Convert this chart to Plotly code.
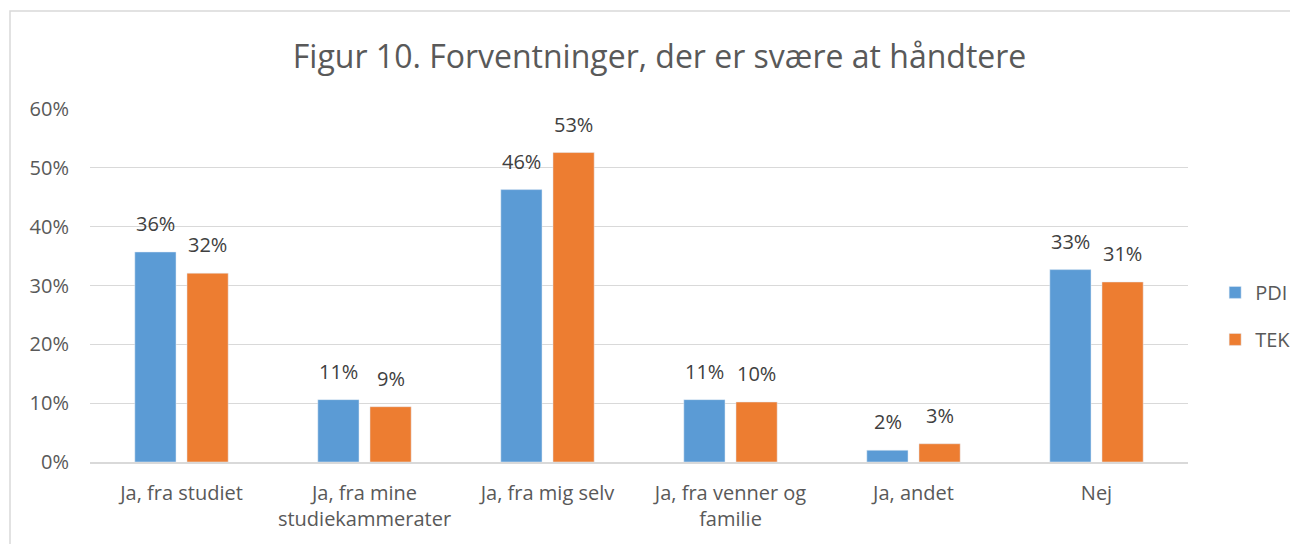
import plotly.graph_objects as go

categories = ["Ja, fra studiet", "Ja, fra mine<br>studiekammerater", "Ja, fra mig selv",
              "Ja, fra venner og<br>familie", "Ja, andet", "Nej"]
pdi = [0.357, 0.106, 0.463, 0.106, 0.020, 0.327]
tek = [0.321, 0.094, 0.526, 0.102, 0.031, 0.306]
y_ticks = [0, 0.1, 0.2, 0.3, 0.4, 0.5, 0.6]

font = "Open Sans, sans-serif"

fig = go.Figure()
fig.add_trace(go.Bar(x=categories, y=pdi, name="PDI", marker_color="#5B9BD5",
                     legendgroup="a"))
fig.add_trace(go.Bar(x=categories, y=tek, name="TEK", marker_color="#ED7D31",
                     legendgroup="b"))

# data labels above each bar
for vals, shift in [(pdi, -26), (tek, 26)]:
    for c, v in zip(categories, vals):
        fig.add_annotation(x=c, y=v, text=f"{v:.0%}", showarrow=False,
                           xshift=shift, yshift=13, yanchor="bottom",
                           font=dict(size=20, color="#404040"))

fig.update_layout(
    width=1298, height=544,
    margin=dict(l=82, r=118, t=101, b=90),
    paper_bgcolor="white", plot_bgcolor="white",
    font=dict(family=font, color="#595959", size=20),
    title=dict(text="Figur 10. Forventninger, der er svære at håndtere",
               x=0.502, xanchor="center", y=0.91, yanchor="middle",
               font=dict(size=32, color="#595959")),
    barmode="group", bargap=0.43, bargroupgap=0.21,
    legend=dict(xref="container", yref="container", x=0.930, y=0.434,
                xanchor="left", yanchor="middle",
                font=dict(size=20, color="#595959"), tracegroupgap=18,
                itemwidth=30, traceorder="grouped"),
    showlegend=True,
)
fig.update_yaxes(range=[0, 0.6], tickvals=y_ticks, tickformat=".0%",
                 gridcolor="#D9D9D9", gridwidth=1, zeroline=False,
                 showline=False, ticks="", ticklen=0, ticklabelstandoff=20,
                 tickfont=dict(size=20, color="#595959"))
fig.update_xaxes(showline=True, linecolor="#D9D9D9", linewidth=1.5,
                 tickfont=dict(size=20, color="#595959"), ticks="",
                 ticklabelstandoff=12)

# outer chart border
fig.add_shape(type="rect", xref="paper", yref="paper",
              x0=-80/1098, x1=1400/1098, y0=-200/353, y1=1 + 98/353,
              line=dict(color="#D9D9D9", width=1.5), fillcolor="rgba(0,0,0,0)")

fig.write_html("out.html")
